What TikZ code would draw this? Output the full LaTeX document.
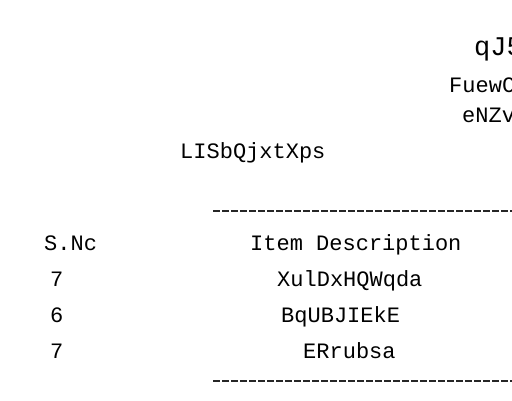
\documentclass[tikz,border=0pt]{standalone}
\usepackage{fontspec}
\newfontfamily\receiptfont{Liberation Mono}
\usepackage{tikz}

\begin{document}
\begin{tikzpicture}[x=1pt,y=-1pt,
		txt/.style={font=\receiptfont\fontsize{22}{22}\selectfont, inner sep=0pt, anchor=base west},
		bigtxt/.style={font=\receiptfont\fontsize{27}{27}\selectfont, inner sep=0pt, anchor=base west},
		rule/.style={line width=1.8pt, dash pattern=on 7pt off 2pt, black!85}]
		\useasboundingbox (0,0) rectangle (512,400);

		% Header lines at the right edge
		\node[bigtxt] (title) at (474,55) {qJ5};
		\node[txt] (line1) at (449,92) {FuewC};
		\node[txt] (line2) at (462,122) {eNZv};

		% Sub heading
		\node[txt] (sub) at (180,158) {LISbQjxtXps};

		% Top rule
		\coordinate (topL) at (213,211);
		\coordinate (topR) at (514,211);
		\draw[rule] (topL) -- (topR);

		% Column heads
		\node[txt] (snohead) at (44,250) {S.Nc};
		\node[txt] (itemhead) at (250,250) {Item Description};

		% Rows
		\node[txt] (no1) at (50,286) {7};
		\node[txt] (item1) at (277,286) {XulDxHQWqda};
		\node[txt] (no2) at (50,322) {6};
		\node[txt] (item2) at (281,322) {BqUBJIEkE};
		\node[txt] (no3) at (50,358) {7};
		\node[txt] (item3) at (303,358) {ERrubsa};

		% Bottom rule
		\coordinate (botL) at (213,381);
		\coordinate (botR) at (514,381);
		\draw[rule] (botL) -- (botR);
	\end{tikzpicture}
\end{document}
